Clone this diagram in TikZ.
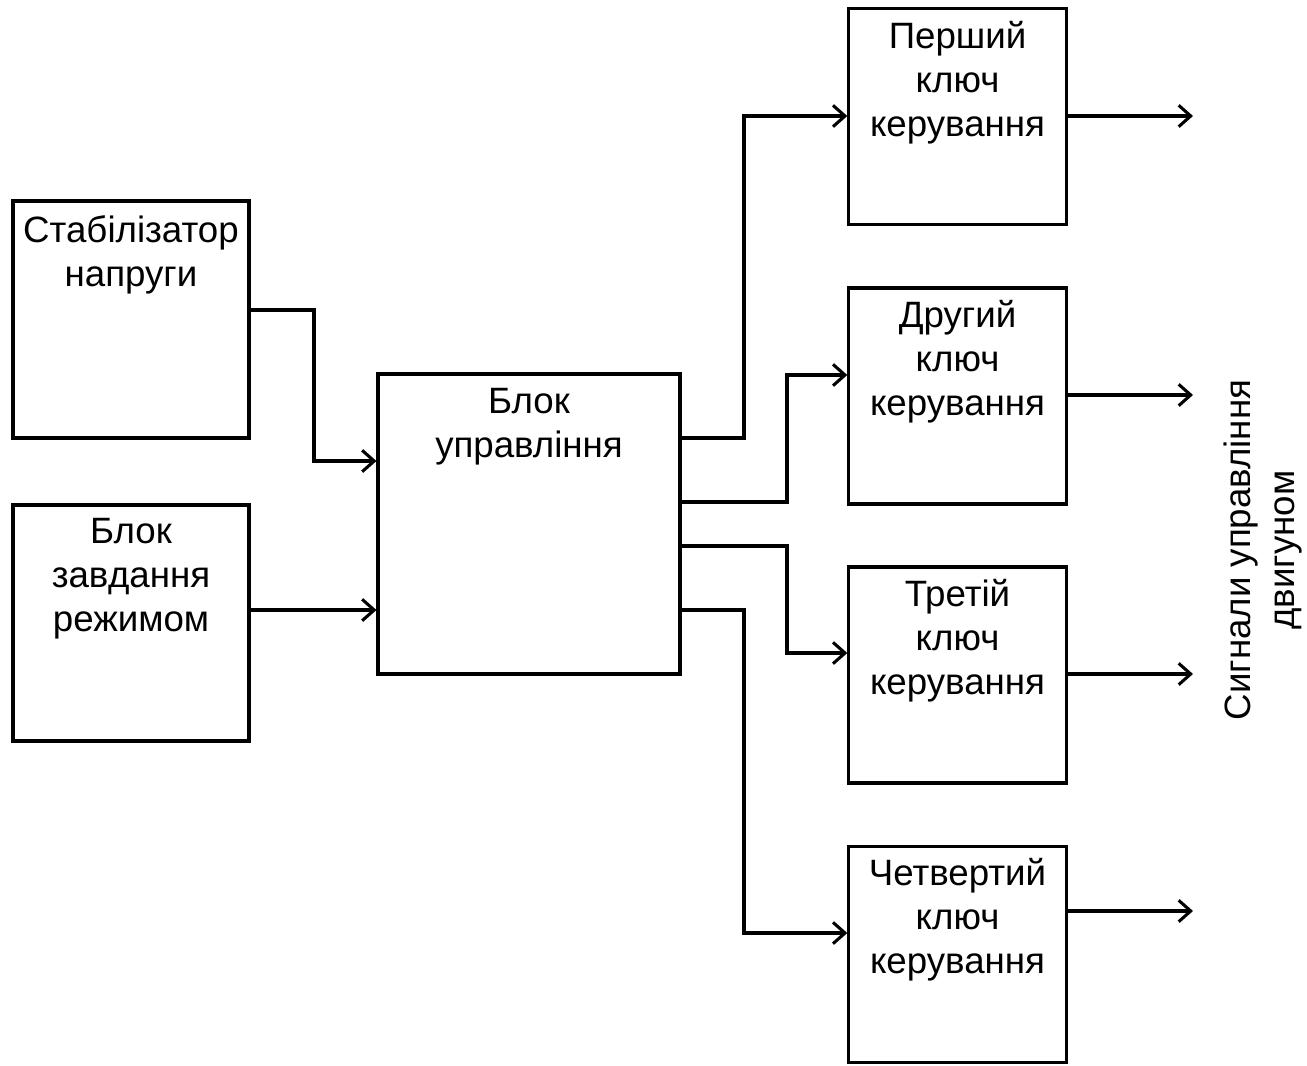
\documentclass[tikz,border=0pt]{standalone}
\usepackage{fontspec}
\setmainfont{Liberation Sans}
\usetikzlibrary{arrows.meta}
\begin{document}
\begin{tikzpicture}[x=0.75pt,y=-0.75pt,
  box/.style={draw,line width=2.3pt,rectangle,inner sep=0pt},
  lbl/.style={anchor=base,inner sep=0pt,font=\fontsize{27.5}{33}\selectfont},
  conn/.style={line width=2.3pt,-{Straight Barb[length=9pt,width=16pt]}},
  kbox/.style={box,minimum width=163pt,minimum height=162pt}]
\useasboundingbox (0,0) rectangle (1307,1065);
% boxes
\node[box,minimum width=177pt,minimum height=177.75pt] (stab) at (131,319.5) {};
\node[box,minimum width=177pt,minimum height=177pt] (zav) at (131,623) {};
\node[box,minimum width=226.5pt,minimum height=225pt] (bu) at (529,524) {};
\node[kbox] (k1) at (957.5,116.5) {};
\node[kbox] (k2) at (957.5,396) {};
\node[kbox] (k3) at (957.5,675) {};
\node[kbox] (k4) at (957.5,954.5) {};
% labels
\node[lbl] (stabT) at (131,242) {\begin{tabular}[t]{@{}c@{}}Стабілізатор\\напруги\end{tabular}};
\node[lbl] (zavT) at (131,543) {\begin{tabular}[t]{@{}c@{}}Блок\\завдання\\режимом\end{tabular}};
\node[lbl] (buT) at (529,413) {\begin{tabular}[t]{@{}c@{}}Блок\\управління\end{tabular}};
\node[lbl] (k1T) at (957.5,48) {\begin{tabular}[t]{@{}c@{}}Перший\\ключ\\керування\end{tabular}};
\node[lbl] (k2T) at (957.5,327) {\begin{tabular}[t]{@{}c@{}}Другий\\ключ\\керування\end{tabular}};
\node[lbl] (k3T) at (957.5,606) {\begin{tabular}[t]{@{}c@{}}Третій\\ключ\\керування\end{tabular}};
\node[lbl] (k4T) at (957.5,885) {\begin{tabular}[t]{@{}c@{}}Четвертий\\ключ\\керування\end{tabular}};
\node[inner sep=0pt,rotate=90,align=center,font=\fontsize{27.5}{33.5}\selectfont] (sig) at (1263,550) {Сигнали управління\\двигуном};
% output ends
\coordinate (o1) at (1193,116);
\coordinate (o2) at (1193,395);
\coordinate (o3) at (1193,674);
\coordinate (o4) at (1193,911);
% connectors
\draw[conn] (stab.east |- 0,310) -- (314,310) -- (314,461) -- (bu.west |- 0,461);
\draw[conn] (zav.east |- 0,610) -- (bu.west |- 0,610);
\draw[conn] (bu.east |- 0,438) -- (744,438) -- (744,116) -- (k1.west |- 0,116);
\draw[conn] (bu.east |- 0,502) -- (787,502) -- (787,375) -- (k2.west |- 0,375);
\draw[conn] (bu.east |- 0,546) -- (787,546) -- (787,653) -- (k3.west |- 0,653);
\draw[conn] (bu.east |- 0,610) -- (744,610) -- (744,933) -- (k4.west |- 0,933);
\draw[conn] (k1.east |- o1) -- (o1);
\draw[conn] (k2.east |- o2) -- (o2);
\draw[conn] (k3.east |- o3) -- (o3);
\draw[conn] (k4.east |- o4) -- (o4);
\end{tikzpicture}
\end{document}
